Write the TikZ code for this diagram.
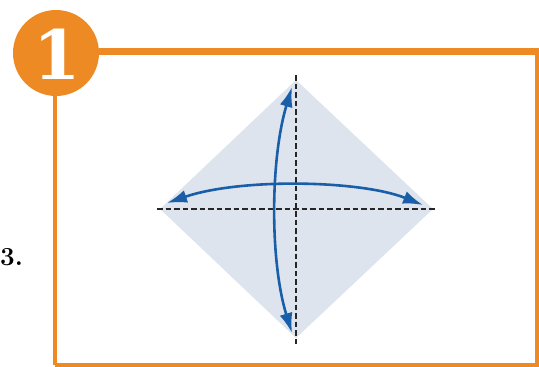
\documentclass[tikz,border=0pt]{standalone}
\usepackage{fontspec}
\usepackage{tikz}
\usetikzlibrary{arrows.meta}
\newfontfamily\badgefont{DejaVu Serif}
\definecolor{steporange}{RGB}{238,138,36}
\definecolor{paperblue}{RGB}{222,228,237}
\definecolor{foldblue}{RGB}{24,94,168}
\tikzset{
  foldline/.style={black!85,line width=2.2pt,dash pattern=on 5.5pt off 3pt},
  foldtip/.tip={Latex[length=20pt,width=13pt,fill=foldblue]},
  foldarrow/.style={foldblue,line width=2.6pt,foldtip-foldtip}
}
\begin{document}
\begin{tikzpicture}[x=1pt,y=-1pt]
\useasboundingbox (0,0) rectangle (539,367);
% text at the left edge
\node[anchor=base west,font=\fontsize{26}{26}\selectfont\bfseries,inner sep=0pt] (prev) at (0,265) {3.};
% frame and step badge
\coordinate (fb) at (55,365);
\coordinate (fr) at (537,365);
\coordinate (ft) at (537,50);
\draw[steporange,line width=4pt] (fb) -- (fr) -- (ft) -- (99,50);
\node[circle,fill=steporange,minimum size=86pt,inner sep=0pt] (badge) at (56,53) {};
\draw[steporange,line width=4pt] (badge.south -| fb) -- (fb);
\draw[steporange,line width=4pt] (badge.east) -- (badge.east -| ft);
\node[white,font=\badgefont\bfseries\fontsize{68}{68}\selectfont,inner sep=0pt] (num) at (57,54) {1};
% square of paper
\coordinate (top) at (296,80);
\coordinate (left) at (160,209);
\coordinate (right) at (433,209);
\coordinate (bottom) at (296,338);
\fill[paperblue] (top) -- (right) -- (bottom) -- (left) -- cycle;
\draw[foldline] (296,75) -- (296,346);
\draw[foldline] (157,209) -- (436,209);
% fold and unfold
\coordinate (al) at (167,203);
\coordinate (ar) at (423,205);
\coordinate (at) at (292,87);
\coordinate (ab) at (292,333);
\draw[foldarrow] (al) .. controls (240,178) and (360,180) .. (ar);
\draw[foldarrow] (at) .. controls (270,160) and (270,262) .. (ab);
\end{tikzpicture}
\end{document}
